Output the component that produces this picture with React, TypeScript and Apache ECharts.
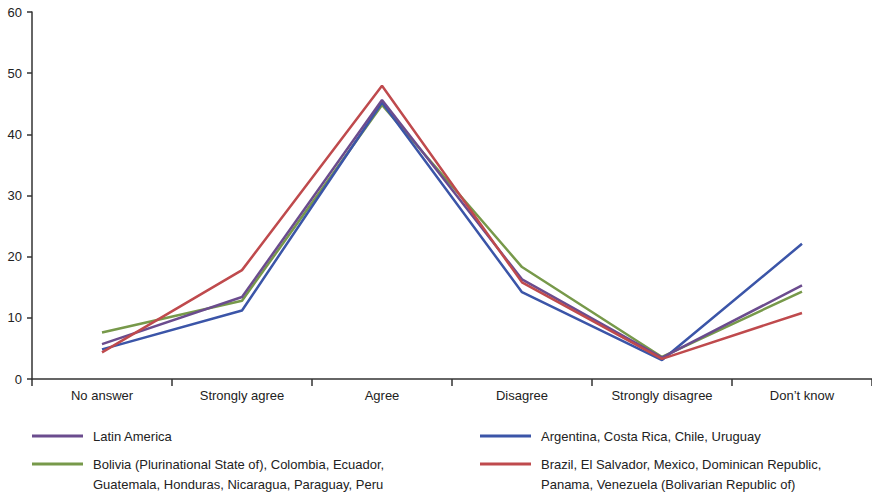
import React, { useEffect, useRef } from "react";
import * as echarts from "echarts";

const categories = ["No answer", "Strongly agree", "Agree", "Disagree", "Strongly disagree", "Don\u2019t know"];
const yTicks = [0, 10, 20, 30, 40, 50, 60];

const latinAmerica = [5.7, 13.4, 45.6, 16.3, 3.5, 15.3];
const southernCone = [4.85, 11.2, 45.2, 14.2, 3.1, 22.1];
const andeanCentral = [7.6, 12.8, 44.8, 18.3, 3.6, 14.3];
const brazilMexico = [4.35, 17.8, 47.95, 15.8, 3.3, 10.8];

const seriesNames = [
  "Latin America",
  "Argentina, Costa Rica, Chile, Uruguay",
  "Bolivia (Plurinational State of), Colombia, Ecuador,\nGuatemala, Honduras, Nicaragua, Paraguay, Peru",
  "Brazil, El Salvador, Mexico, Dominican Republic,\nPanama, Venezuela (Bolivarian Republic of)",
];
const seriesColors = ["#6b4c8e", "#3b55a8", "#77994a", "#bf4a4d"];

export default function App() {
  const ref = useRef<HTMLDivElement>(null);
  useEffect(() => {
    if (!ref.current) return;
    const chart = echarts.init(ref.current, null, { renderer: "svg" });
    const data = [latinAmerica, southernCone, andeanCentral, brazilMexico];
    const font = "13px 'Liberation Sans', Arial, sans-serif";
    const legendPos = [
      { lx: 32, tx: 93, y: 436 },
      { lx: 480, tx: 541, y: 436 },
      { lx: 32, tx: 93, y: 464 },
      { lx: 480, tx: 541, y: 464 },
    ];
    const graphics: any[] = [];
    seriesNames.forEach((name, i) => {
      const p = legendPos[i];
      graphics.push({
        type: "line",
        shape: { x1: p.lx, y1: p.y, x2: p.lx + 51, y2: p.y },
        style: { stroke: seriesColors[i], lineWidth: 3 },
      });
      graphics.push({
        type: "text",
        x: p.tx,
        y: p.y - 10,
        style: {
          text: name,
          font,
          fill: "#222",
          lineHeight: 20,
          verticalAlign: "top",
          textAlign: "left",
        },
      });
    });
    chart.setOption({
      animation: false,
      grid: { left: 32, top: 12, right: -4, bottom: 117, containLabel: false },
      xAxis: {
        type: "category",
        data: categories,
        boundaryGap: true,
        axisLine: { lineStyle: { color: "#333", width: 1.5 } },
        axisTick: { show: true, length: 7, lineStyle: { color: "#333", width: 1.5 } },
        axisLabel: { color: "#222", fontSize: 13, fontFamily: "'Liberation Sans', Arial, sans-serif", margin: 10 },
      },
      yAxis: {
        type: "value",
        min: 0,
        max: 60,
        interval: 10,
        axisLine: { show: true, lineStyle: { color: "#333", width: 1.5 } },
        axisTick: { show: true, length: 5, lineStyle: { color: "#333", width: 1.5 } },
        splitLine: { show: false },
        axisLabel: {
          color: "#222",
          fontSize: 13,
          fontFamily: "'Liberation Sans', Arial, sans-serif",
          margin: 10,
          formatter: (v: number) => (yTicks.includes(v) ? String(v) : ""),
        },
      },
      series: data.map((d, i) => ({
        name: seriesNames[i],
        type: "line",
        data: d,
        symbol: "none",
        lineStyle: { color: seriesColors[i], width: 2.5 },
        itemStyle: { color: seriesColors[i] },
        z: [3, 2, 1, 4][i],
      })),
      graphic: graphics,
    });
    return () => chart.dispose();
  }, []);
  return (
    <div
      ref={ref}
      style={{ position: "absolute", left: 0, top: 0, width: 872, height: 496, background: "#fff" }}
    />
  );
}
